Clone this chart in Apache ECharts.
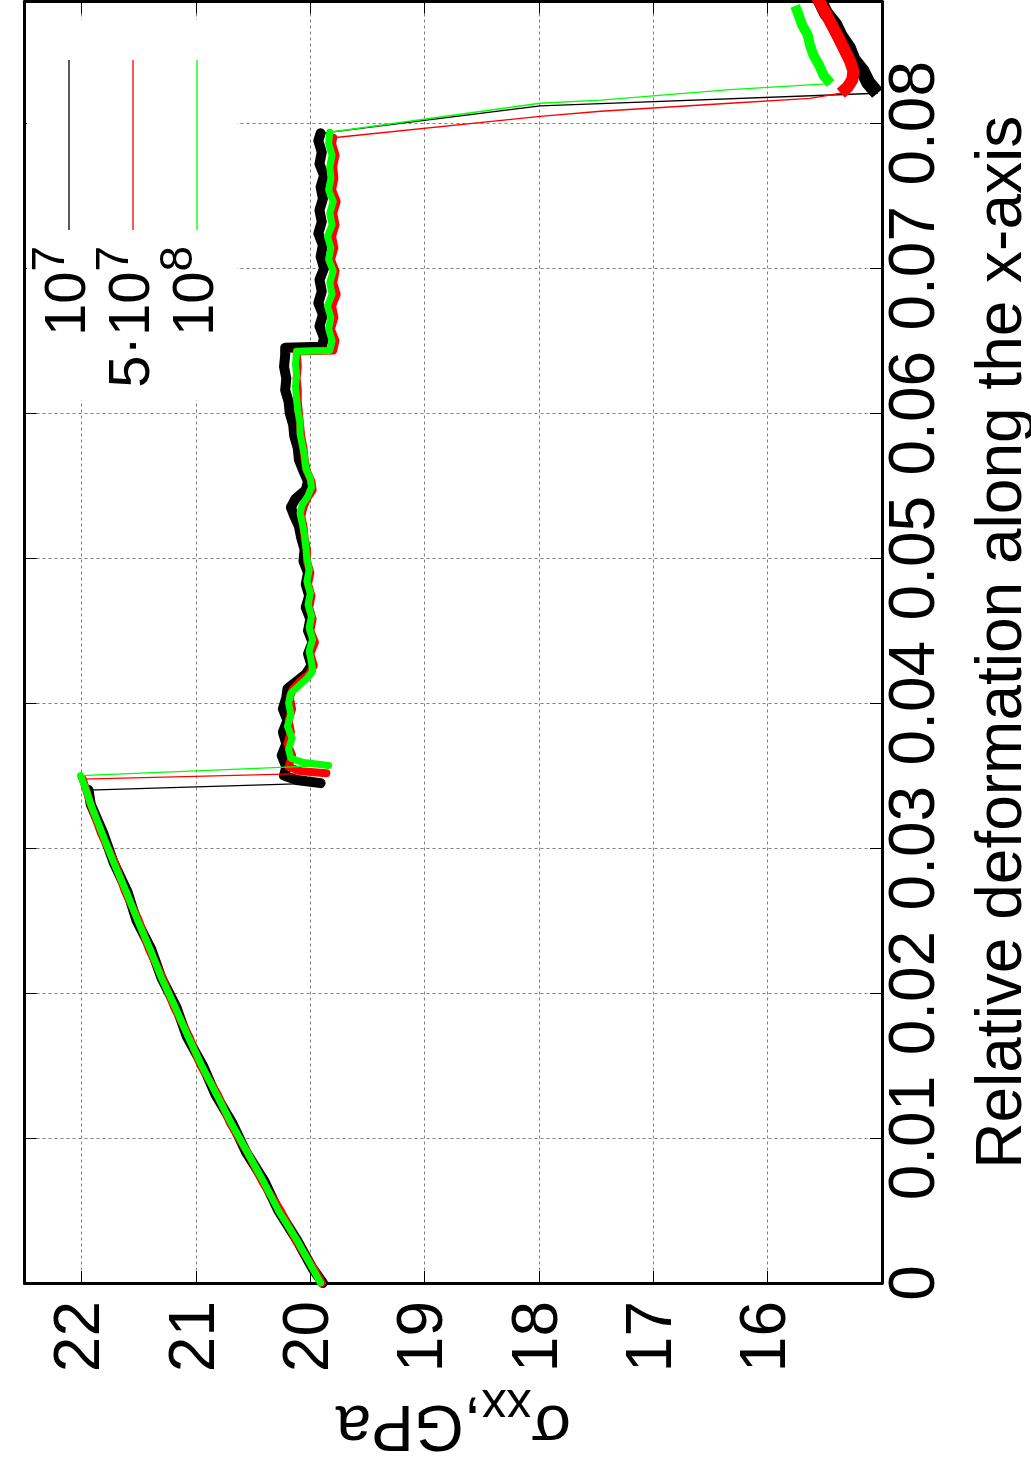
<!DOCTYPE html>
<html>
<head>
<meta charset="utf-8">
<script src="https://cdn.jsdelivr.net/npm/echarts@6/dist/echarts.min.js"></script>
<style>
html,body{margin:0;padding:0;background:#fff;}
#c{width:1031px;height:1483px;}
</style>
</head>
<body>
<div id="c"></div>
<script>
const FONT = "'Liberation Sans', Arial, Helvetica, sans-serif";

// axis ranges and tick labels
const stressMin = 15, stressMax = 22.5;
const strainMin = 0, strainMax = 0.0884;
const stressLabels = [16, 17, 18, 19, 20, 21, 22];
const strainLabels = ['0', '0.01', '0.02', '0.03', '0.04', '0.05', '0.06', '0.07', '0.08'];

// legend
const legendNames = ['{m|10}{sup|7}', '{m|5·10}{sup|7}', '{m|10}{sup|8}'];
const legendColors = ['#000000', '#ff0000', '#00ff00'];

// ---- series 10^7 (black) ----
const eps_b_load = [0, 0.001, 0.003, 0.005, 0.007, 0.009, 0.011, 0.013, 0.015, 0.017, 0.019, 0.021, 0.023, 0.025, 0.027, 0.029, 0.031, 0.033, 0.034];
const sig_b_load = [19.89, 19.98, 20.12, 20.28, 20.40, 20.56, 20.68, 20.83, 20.94, 21.08, 21.17, 21.30, 21.39, 21.52, 21.60, 21.72, 21.81, 21.92, 21.94];
const eps_b_mid = [0.03448, 0.0347, 0.0350, 0.0356, 0.0364, 0.0372, 0.0380, 0.0388, 0.0396, 0.0404, 0.0410, 0.0415, 0.0420, 0.0426, 0.0434, 0.0442, 0.0450, 0.0458, 0.0466, 0.0474, 0.0482, 0.0490, 0.0498, 0.0506, 0.0514, 0.0522, 0.0529, 0.0535, 0.0541, 0.0547, 0.0553, 0.0560, 0.0568, 0.0576, 0.0584, 0.0592, 0.0600, 0.0608, 0.0616, 0.0624, 0.0632, 0.0640, 0.06452, 0.06458, 0.0652, 0.0660, 0.0668, 0.0676, 0.0684, 0.0692, 0.0700, 0.0708, 0.0716, 0.0724, 0.0732, 0.0740, 0.0748, 0.0756, 0.0764, 0.0772, 0.0780, 0.0788, 0.07931];
const sig_b_mid = [19.91, 20.12, 20.23, 20.21, 20.25, 20.21, 20.24, 20.20, 20.24, 20.21, 20.20, 20.12, 20.04, 19.99, 20.02, 19.98, 20.02, 20.00, 20.04, 20.01, 20.04, 20.02, 20.06, 20.05, 20.08, 20.10, 20.14, 20.17, 20.13, 20.04, 20.02, 20.06, 20.10, 20.11, 20.14, 20.15, 20.18, 20.19, 20.22, 20.21, 20.23, 20.22, 20.22, 19.90, 19.88, 19.92, 19.89, 19.93, 19.90, 19.92, 19.88, 19.91, 19.89, 19.93, 19.90, 19.92, 19.89, 19.91, 19.88, 19.92, 19.90, 19.93, 19.91];
const eps_b_drop = [0.0812, 0.08136];
const sig_b_drop = [17.99, 17.46];
const eps_b_tail = [0.08207, 0.0828, 0.0836, 0.0844, 0.0852, 0.0860, 0.0868, 0.0876, 0.0884, 0.0890];
const sig_b_tail = [15.04, 15.12, 15.17, 15.25, 15.29, 15.36, 15.41, 15.49, 15.54, 15.58];

// ---- series 5*10^7 (red) ----
const eps_r_load = [0, 0.001, 0.003, 0.005, 0.007, 0.009, 0.011, 0.013, 0.015, 0.017, 0.019, 0.021, 0.023, 0.025, 0.027, 0.029, 0.031, 0.033, 0.034, 0.03476];
const sig_r_load = [19.90, 19.97, 20.13, 20.26, 20.42, 20.55, 20.70, 20.81, 20.96, 21.06, 21.19, 21.29, 21.41, 21.50, 21.62, 21.71, 21.83, 21.92, 21.96, 21.99];
const eps_r_mid = [0.03517, 0.0353, 0.0356, 0.0364, 0.0372, 0.0380, 0.0388, 0.0396, 0.0404, 0.0410, 0.0415, 0.0420, 0.0426, 0.0434, 0.0442, 0.0450, 0.0458, 0.0466, 0.0474, 0.0482, 0.0490, 0.0498, 0.0506, 0.0514, 0.0522, 0.0529, 0.0535, 0.0541, 0.0547, 0.0553, 0.0560, 0.0568, 0.0576, 0.0584, 0.0592, 0.0600, 0.0608, 0.0616, 0.0624, 0.0632, 0.06425, 0.06432, 0.0650, 0.0658, 0.0666, 0.0674, 0.0682, 0.0690, 0.0698, 0.0706, 0.0714, 0.0722, 0.0730, 0.0738, 0.0746, 0.0754, 0.0762, 0.0770, 0.0778, 0.0786, 0.0790];
const sig_r_mid = [19.86, 20.08, 20.19, 20.16, 20.20, 20.17, 20.19, 20.16, 20.18, 20.15, 20.09, 20.01, 19.97, 20.00, 19.96, 20.00, 19.98, 20.01, 19.99, 20.02, 20.00, 20.03, 20.03, 20.05, 20.06, 20.08, 20.06, 20.03, 19.98, 19.99, 20.03, 20.05, 20.06, 20.08, 20.09, 20.10, 20.11, 20.11, 20.12, 20.11, 20.12, 19.80, 19.78, 19.82, 19.79, 19.81, 19.77, 19.80, 19.78, 19.82, 19.79, 19.81, 19.78, 19.80, 19.77, 19.81, 19.79, 19.80, 19.78, 19.81, 19.80];
const eps_r_drop = [0.08048, 0.08083, 0.08138, 0.08172];
const sig_r_drop = [17.99, 17.46, 16.33, 15.63];
const eps_r_tail = [0.08207, 0.0825, 0.0830, 0.0836, 0.0843, 0.0851, 0.0859, 0.0868, 0.0877, 0.0886, 0.0890];
const sig_r_tail = [15.36, 15.30, 15.26, 15.25, 15.28, 15.33, 15.38, 15.44, 15.50, 15.56, 15.59];

// ---- series 10^8 (green) ----
const eps_g_load = [0, 0.001, 0.003, 0.005, 0.007, 0.009, 0.011, 0.013, 0.015, 0.017, 0.019, 0.021, 0.023, 0.025, 0.027, 0.029, 0.031, 0.033, 0.034, 0.0350];
const sig_g_load = [19.91, 19.98, 20.12, 20.28, 20.41, 20.55, 20.69, 20.82, 20.95, 21.07, 21.18, 21.30, 21.40, 21.51, 21.61, 21.72, 21.82, 21.92, 21.96, 22.01];
const eps_g_mid = [0.0357, 0.0359, 0.0362, 0.0368, 0.0376, 0.0384, 0.0392, 0.0400, 0.0407, 0.0412, 0.0417, 0.0422, 0.0428, 0.0436, 0.0444, 0.0452, 0.0460, 0.0468, 0.0476, 0.0484, 0.0492, 0.0500, 0.0508, 0.0516, 0.0524, 0.0531, 0.0537, 0.0543, 0.0549, 0.0555, 0.0562, 0.0570, 0.0578, 0.0586, 0.0594, 0.0602, 0.0610, 0.0618, 0.0626, 0.0634, 0.06425, 0.06432, 0.0650, 0.0658, 0.0666, 0.0674, 0.0682, 0.0690, 0.0698, 0.0706, 0.0714, 0.0722, 0.0730, 0.0738, 0.0746, 0.0754, 0.0762, 0.0770, 0.0778, 0.0786, 0.07938];
const sig_g_mid = [19.84, 20.06, 20.17, 20.19, 20.16, 20.20, 20.17, 20.19, 20.17, 20.10, 20.03, 19.98, 19.99, 20.01, 19.98, 20.01, 19.99, 20.02, 20.00, 20.03, 20.01, 20.03, 20.04, 20.05, 20.07, 20.09, 20.07, 20.02, 19.99, 20.00, 20.04, 20.05, 20.07, 20.09, 20.09, 20.11, 20.12, 20.13, 20.12, 20.13, 20.12, 19.83, 19.81, 19.84, 19.82, 19.85, 19.81, 19.83, 19.80, 19.84, 19.82, 19.85, 19.81, 19.83, 19.80, 19.84, 19.82, 19.83, 19.81, 19.84, 19.83];
const eps_g_drop = [0.08138, 0.08159, 0.08232];
const sig_g_drop = [17.99, 17.46, 16.33];
const eps_g_tail = [0.08274, 0.0833, 0.0840, 0.0847, 0.0854, 0.0861, 0.0868, 0.0875, 0.0881];
const sig_g_tail = [15.45, 15.51, 15.55, 15.60, 15.63, 15.65, 15.70, 15.73, 15.76];

// ---- build ----
function pairs(eps, sig) { return eps.map((e, i) => [sig[i], e]); }
const GAP = ['-', '-'];

const runs = [
  { color: legendColors[0], bandWidth: 10, tailWidth: 14, load: pairs(eps_b_load, sig_b_load), mid: pairs(eps_b_mid, sig_b_mid), drop: pairs(eps_b_drop, sig_b_drop), tail: pairs(eps_b_tail, sig_b_tail) },
  { color: legendColors[1], bandWidth: 8, tailWidth: 12, load: pairs(eps_r_load, sig_r_load), mid: pairs(eps_r_mid, sig_r_mid), drop: pairs(eps_r_drop, sig_r_drop), tail: pairs(eps_r_tail, sig_r_tail) },
  { color: legendColors[2], bandWidth: 7, tailWidth: 10, load: pairs(eps_g_load, sig_g_load), mid: pairs(eps_g_mid, sig_g_mid), drop: pairs(eps_g_drop, sig_g_drop), tail: pairs(eps_g_tail, sig_g_tail) }
];

const series = [];
runs.forEach((r, k) => {
  const base = { type: 'line', xAxisIndex: 0, yAxisIndex: 0, symbol: 'none', showSymbol: false, silent: true, clip: true };
  series.push(Object.assign({}, base, {
    z: 2 + k * 3,
    lineStyle: { color: r.color, width: 1.3 },
    data: [].concat(r.load, r.mid, r.drop, r.tail)
  }));
  series.push(Object.assign({}, base, {
    z: 3 + k * 3,
    lineStyle: { color: r.color, width: r.bandWidth, join: 'round', cap: 'round' },
    data: [].concat(r.load, [GAP], r.mid)
  }));
  series.push(Object.assign({}, base, {
    z: 4 + k * 3,
    lineStyle: { color: r.color, width: r.tailWidth, join: 'round', cap: 'butt' },
    data: r.tail
  }));
});

const gridLine = { show: true, lineStyle: { color: '#808080', width: 1, type: [3, 3] } };
const frameLine = { show: true, onZero: false, lineStyle: { color: '#000', width: 3 } };
const innerTick = { show: true, inside: true, length: 12, lineStyle: { color: '#000', width: 1 } };

function stressFmt(v) { return stressLabels.some(s => Math.abs(s - v) < 1e-9) ? String(Math.round(v)) : ''; }
function strainFmt(v) {
  const hit = strainLabels.find(s => Math.abs(parseFloat(s) - v) < 1e-9);
  return hit === undefined ? '' : hit;
}

// legend graphics
const legendX = [69, 133, 197];
const graphic = [
  { type: 'rect', z: 50, shape: { x: 27, y: 20, width: 210, height: 380 }, style: { fill: '#fff' } }
];
legendNames.forEach((txt, i) => {
  graphic.push({ type: 'line', z: 51, shape: { x1: legendX[i], y1: 60, x2: legendX[i], y2: 230 }, style: { stroke: legendColors[i], lineWidth: 1.3 } });
  graphic.push({
    type: 'text', z: 51, x: legendX[i] - 6, y: 246, rotation: Math.PI / 2,
    style: {
      text: txt, align: 'right', verticalAlign: 'middle', fill: '#000',
      fontSize: 58, fontFamily: FONT,
      rich: {
        m: { fontSize: 58, fontFamily: FONT, fill: '#000', verticalAlign: 'bottom' },
        sup: { fontSize: 46, fontFamily: FONT, fill: '#000', lineHeight: 70, verticalAlign: 'top' }
      }
    }
  });
});

const option = {
  animation: false,
  backgroundColor: '#ffffff',
  textStyle: { fontFamily: FONT },
  grid: { left: 24.5, right: 149, top: 1.5, bottom: 200, containLabel: false, outerBoundsMode: 'none' },
  xAxis: [
    {
      type: 'value', position: 'bottom', inverse: true, min: stressMin, max: stressMax, interval: 1,
      axisLine: frameLine, axisTick: innerTick,
      axisLabel: { rotate: 90, margin: 18, fontSize: 64, color: '#000', fontFamily: FONT, formatter: stressFmt, hideOverlap: false, showMinLabel: true, showMaxLabel: true },
      splitLine: gridLine,
      name: '{s|σ}{sub|xx}{s|,GPa}', nameLocation: 'middle', nameRotate: 180, nameGap: 96, nameMoveOverlap: false,
      nameTextStyle: {
        fontSize: 64, fontFamily: FONT, color: '#000',
        rich: {
          s: { fontSize: 64, fontFamily: FONT, color: '#000', verticalAlign: 'top' },
          sub: { fontSize: 50, fontFamily: FONT, color: '#000', lineHeight: 77, verticalAlign: 'bottom' }
        }
      }
    },
    {
      type: 'value', position: 'top', inverse: true, min: stressMin, max: stressMax, interval: 1,
      axisLine: frameLine, axisTick: innerTick, axisLabel: { show: false }, splitLine: { show: false }
    }
  ],
  yAxis: [
    {
      type: 'value', position: 'right', min: strainMin, max: strainMax, interval: 0.01,
      axisLine: frameLine, axisTick: innerTick,
      axisLabel: { rotate: 90, margin: 2, fontSize: 64, color: '#000', fontFamily: FONT, formatter: strainFmt, hideOverlap: false, showMinLabel: true, showMaxLabel: true },
      splitLine: gridLine,
      name: 'Relative deformation along the x-axis', nameLocation: 'middle', nameRotate: 90, nameGap: 89, nameMoveOverlap: false,
      nameTextStyle: { fontSize: 64, fontFamily: FONT, color: '#000' }
    },
    {
      type: 'value', position: 'left', min: strainMin, max: strainMax, interval: 0.01,
      axisLine: frameLine, axisTick: innerTick, axisLabel: { show: false }, splitLine: { show: false }
    }
  ],
  graphic: graphic,
  series: series
};

const chart = echarts.init(document.getElementById('c'), null, { renderer: 'canvas' });
chart.setOption(option);
</script>
</body>
</html>
